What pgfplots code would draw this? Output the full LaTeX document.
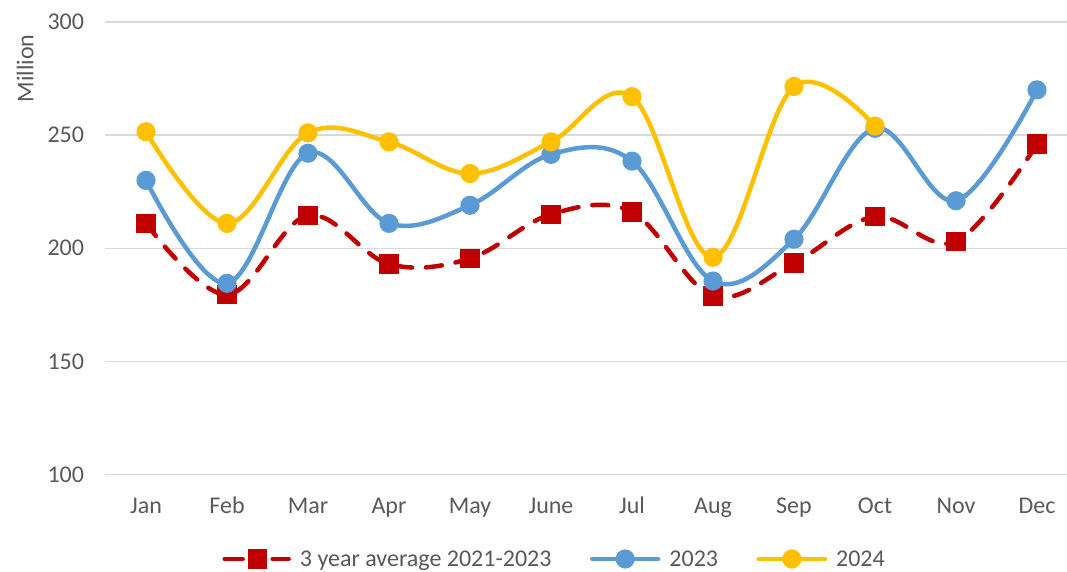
\documentclass[border=0pt]{standalone}
\usepackage{pgfplots}
\pgfplotsset{compat=1.18}
\usepackage{fontspec}
\setmainfont{Carlito}
\definecolor{cred}{HTML}{C00000}
\definecolor{cblue}{HTML}{5B9BD5}
\definecolor{cyellow}{HTML}{FFC000}
\definecolor{gridgray}{HTML}{D9D9D9}
\definecolor{textgray}{HTML}{595959}
\newcommand\chartfont{\fontsize{24}{28.8}\selectfont}
\pgfplotsset{
  redlegend/.style={legend image code/.code={
    \draw[##1, solid] (0pt,0pt) -- (18pt,0pt);
    \draw[##1, solid] (48pt,0pt) -- (64pt,0pt);
    \draw[##1, solid, mark repeat=2, mark phase=2, draw=none] plot coordinates {(0pt,0pt) (33pt,0pt) (66pt,0pt)};}},
  linelegend/.style={legend image code/.code={
    \draw[##1, mark repeat=2, mark phase=2] plot coordinates {(0pt,0pt) (33pt,0pt) (66pt,0pt)};}},
}
\begin{document}
\begin{tikzpicture}
\useasboundingbox (-105.5pt,-96.5pt) rectangle (961.5pt,474.5pt);
\begin{axis}[
  at={(0pt,0pt)}, anchor=south west,
  x=81pt, y=2.2625pt,
  xmin=-0.5, xmax=11.37, ymin=100, ymax=300,
  xtick={0,...,11},
  xticklabels={Jan,Feb,Mar,Apr,May,June,Jul,Aug,Sep,Oct,Nov,Dec},
  ytick={100,150,200,250,300},
  ymajorgrids,
  grid style={color=gridgray, line width=1.3pt},
  axis line style={draw=none},
  major tick length=0pt,
  tick style={draw=none},
  /pgf/number format/assume math mode=true,
  tick label style={font=\chartfont, text=textgray},
  xticklabel style={anchor=base, inner sep=0pt, yshift=-38.5pt},
  yticklabel style={anchor=east, inner sep=0pt, xshift=-21.3pt},
  ylabel={Million},
  every axis y label/.style={at={(axis description cs:-0.0751,0.8977)}, rotate=90, anchor=base, inner sep=0pt, font=\chartfont, text=textgray},
  legend columns=3,
  legend style={draw=none, fill=none, at={(axis description cs:0.1183,-0.1867)}, anchor=west,
    font=\chartfont, text=textgray, nodes={inner sep=0pt},
    /tikz/every odd column/.append style={column sep=9pt},
    /tikz/every even column/.append style={column sep=38.5pt}},
]
\addplot[cred, line width=4.5pt, line cap=round, dash pattern=on 16pt off 14pt, smooth, tension=0.6,
  mark=square*, mark size=7.5pt, mark options={solid, draw=none, fill=cred}, redlegend]
  coordinates {(0,211) (1,179.5) (2,214.5) (3,193) (4,195.5) (5,215) (6,216) (7,179) (8,193.5) (9,214) (10,203) (11,246)};
\addlegendentry{3 year average 2021-2023}
\addplot[cblue, line width=4.5pt, line cap=round, smooth, tension=0.6,
  mark=*, mark size=7.3pt, mark options={draw=none, fill=cblue}, linelegend]
  coordinates {(0,230) (1,184.5) (2,242) (3,211) (4,219) (5,241.5) (6,238.5) (7,185.5) (8,204) (9,253) (10,221) (11,270)};
\addlegendentry{2023}
\addplot[cyellow, line width=4.5pt, line cap=round, smooth, tension=0.6,
  mark=*, mark size=7.3pt, mark options={draw=none, fill=cyellow}, linelegend]
  coordinates {(0,251.5) (1,211) (2,251) (3,247) (4,233) (5,247) (6,267) (7,196) (8,271.5) (9,254)};
\addlegendentry{2024}
\end{axis}
\end{tikzpicture}
\end{document}
